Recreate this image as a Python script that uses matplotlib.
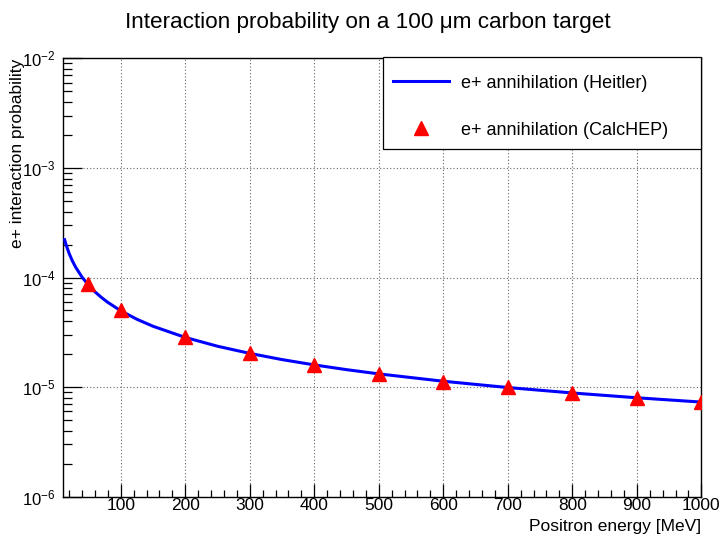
#!/usr/bin/env python3
"""
Positron annihilation probability on a thin carbon target:
Heitler cross-section curve compared with CalcHEP points.
"""

import matplotlib
matplotlib.use('Agg')
import matplotlib.pyplot as plt
from matplotlib.patches import Rectangle
from matplotlib.ticker import FixedLocator, MultipleLocator, FuncFormatter, NullFormatter
import numpy as np

plt.rcParams['font.family'] = ['Liberation Sans', 'DejaVu Sans']
plt.rcParams['mathtext.fontset'] = 'custom'
plt.rcParams['mathtext.rm'] = 'Liberation Sans'
plt.rcParams['mathtext.it'] = 'Liberation Sans:italic'

# -------------------------
# Data
# -------------------------
# Heitler curve (energy in MeV, interaction probability)
heitler_energy = [13, 15, 20, 25, 30, 40, 50, 60, 70, 80, 100, 125, 150, 200,
                  250, 300, 350, 400, 450, 500, 600, 700, 800, 900, 1000]
heitler_prob = [2.21e-4, 2.01e-4, 1.657e-4, 1.418e-4, 1.245e-4, 1.008e-4, 8.52e-5,
                7.41e-5, 6.58e-5, 5.93e-5, 4.97e-5, 4.16e-5, 3.59e-5, 2.84e-5,
                2.36e-5, 2.03e-5, 1.783e-5, 1.594e-5, 1.443e-5, 1.32e-5, 1.131e-5,
                9.91e-6, 8.84e-6, 7.99e-6, 7.30e-6]

# CalcHEP points
calchep_energy = [50, 100, 200, 300, 400, 500, 600, 700, 800, 900, 1000]
calchep_prob = [8.7e-5, 5.0e-5, 2.85e-5, 2.05e-5, 1.6e-5, 1.32e-5, 1.12e-5,
                1.0e-5, 8.8e-6, 8.0e-6, 7.3e-6]

x_range = (10, 1000)
y_range = (1e-6, 1e-2)
x_major = [100, 200, 300, 400, 500, 600, 700, 800, 900, 1000]

title = "Interaction probability on a 100 \u03bcm carbon target"

# -------------------------
# Plot
# -------------------------
fig = plt.figure(figsize=(7.23, 5.35), dpi=100)
ax = fig.add_axes([0.0867, 0.0716, 0.8833, 0.8194])

ax.plot(heitler_energy, heitler_prob, color='#0000ff', lw=2.2,
        label='e+ annihilation (Heitler)', zorder=3)
ax.plot(calchep_energy, calchep_prob, ls='none', marker='^', ms=9.5,
        color='#ff0000', mec='#ff0000', label='e+ annihilation (CalcHEP)', zorder=4)

ax.set_xlim(*x_range)
ax.set_yscale('log')
ax.set_ylim(*y_range)

ax.xaxis.set_major_locator(FixedLocator(x_major))
ax.xaxis.set_minor_locator(MultipleLocator(20))
ax.yaxis.set_major_formatter(FuncFormatter(
    lambda v, p: r'$\mathregular{10^{%d}}$' % int(round(np.log10(v)))))
ax.yaxis.set_minor_formatter(NullFormatter())

ax.tick_params(axis='both', which='both', direction='in', top=False, right=False,
               labelsize=12.5, color='black', width=0.9)
ax.tick_params(axis='x', which='major', length=9.4, pad=1)
ax.tick_params(axis='x', which='minor', length=4.7)
ax.tick_params(axis='y', which='major', length=13.7, pad=5, labelsize=12)
ax.tick_params(axis='y', which='minor', length=6.8)
for s in ax.spines.values():
    s.set_linewidth(1.0)
    s.set_color('black')

ax.grid(True, which='major', color='#666666', linestyle=(0, (1, 2)), linewidth=0.8)
ax.set_axisbelow(True)

ax.set_xlabel('Positron energy [MeV]', fontsize=12.5)
ax.xaxis.set_label_coords(1.0, -0.052)
ax.xaxis.label.set_horizontalalignment('right')
ax.xaxis.label.set_verticalalignment('top')
ax.set_ylabel('e+ interaction probability', fontsize=12.5)
ax.yaxis.set_label_coords(-0.07, 1.0)
ax.yaxis.label.set_horizontalalignment('right')
ax.yaxis.label.set_verticalalignment('center')

fig.text(0.509, 0.948, title, ha='center', va='baseline', fontsize=16.2)

# legend: ROOT-style box in the upper right corner of the frame
ax.add_patch(Rectangle((0.501, 0.7924), 0.499, 0.2096, transform=ax.transAxes,
                       facecolor='white', edgecolor='black', lw=0.9,
                       zorder=5, clip_on=False))
leg = ax.legend(loc='upper left', bbox_to_anchor=(0.5168, 0.963),
                borderaxespad=0, borderpad=0, fontsize=13, handlelength=3.1,
                handletextpad=0.7, labelspacing=1.66, frameon=False)
leg.set_zorder(6)

fig.savefig('out.png', dpi=100)
